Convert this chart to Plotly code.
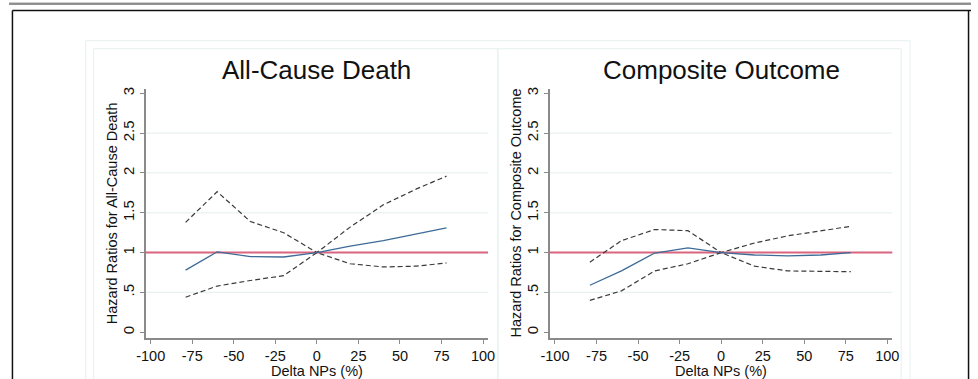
import plotly.graph_objects as go

# Change in NPs (%) at which hazard ratios were estimated
delta_nps = [-79, -60, -40, -20, 0, 20, 40, 60, 78]

# All-cause death: hazard ratio with 95% CI bounds
death_hr = [0.78, 1.01, 0.95, 0.945, 1.0, 1.08, 1.15, 1.23, 1.31]
death_upper = [1.38, 1.765, 1.39, 1.25, 1.0, 1.32, 1.60, 1.80, 1.96]
death_lower = [0.44, 0.58, 0.65, 0.71, 1.0, 0.86, 0.82, 0.83, 0.87]

# Composite outcome: hazard ratio with 95% CI bounds
comp_hr = [0.59, 0.77, 0.995, 1.06, 1.0, 0.97, 0.96, 0.97, 1.0]
comp_upper = [0.88, 1.15, 1.29, 1.275, 1.0, 1.12, 1.21, 1.27, 1.33]
comp_lower = [0.40, 0.52, 0.77, 0.86, 1.0, 0.83, 0.77, 0.76, 0.76]

x_ticks = [-100, -75, -50, -25, 0, 25, 50, 75, 100]
x_tick_text = ["-100", "-75", "-50", "-25", "0", "25", "50", "75", "100"]
y_ticks = [0, 0.5, 1, 1.5, 2, 2.5, 3]
y_tick_text = ["0", ".5", "1", "1.5", "2", "2.5", "3"]
grid_vals = [0.5, 1.5, 2, 2.5]
reference_hr = 1

titles = ["All-Cause Death", "Composite Outcome"]
y_titles = ["Hazard Ratios for All-Cause Death", "Hazard Ratios for Composite Outcome"]
x_title = "Delta NPs (%)"

W, H = 978, 379
FONT = "Liberation Sans, Arial, Helvetica, sans-serif"
BLUE = "#3d6b98"
DASH_COLOR = "#3a3a3a"
RED = "#d9657f"
FAINT = "#e6efef"
AXIS = "#8a8a8a"

X_RANGE = [-103, 103]
Y_RANGE = [-0.075, 3.06]


def px_x(p):
    return p / W


def px_y(p):
    return 1 - p / H


fig = go.Figure()

panels = [
    (death_hr, death_upper, death_lower, "x", "y"),
    (comp_hr, comp_upper, comp_lower, "x2", "y2"),
]

for hr, up, lo, xa, ya in panels:
    for vals in (up, lo):
        fig.add_trace(go.Scatter(
            x=delta_nps, y=vals, mode="lines", xaxis=xa, yaxis=ya,
            line=dict(color=DASH_COLOR, width=1.2, dash="5px,3px"),
            showlegend=False, hoverinfo="skip"))
    fig.add_trace(go.Scatter(
        x=delta_nps, y=hr, mode="lines", xaxis=xa, yaxis=ya,
        line=dict(color=BLUE, width=1.3), showlegend=False))

axis_common = dict(
    showline=True, linecolor=AXIS, linewidth=1.5, zeroline=False,
    showgrid=False, ticks="outside", ticklen=4, tickcolor=AXIS, tickwidth=1,
)
x_font = dict(family=FONT, size=14.5, color="#111")
y_font = dict(family=FONT, size=15, color="#111")

y_dom = [px_y(338), px_y(87)]
fig.update_layout(
    xaxis=dict(domain=[px_x(139), px_x(487)], range=X_RANGE, tickvals=x_ticks,
               ticktext=x_tick_text, anchor="y", tickfont=x_font, **axis_common),
    yaxis=dict(domain=y_dom, range=Y_RANGE, tickvals=y_ticks, ticktext=y_tick_text,
               tickangle=-90, anchor="x", tickfont=y_font, **axis_common),
    xaxis2=dict(domain=[px_x(550), px_x(898)], range=X_RANGE, tickvals=x_ticks,
                ticktext=x_tick_text, anchor="y2", tickfont=x_font, **axis_common),
    yaxis2=dict(domain=y_dom, range=Y_RANGE, tickvals=y_ticks, ticktext=y_tick_text,
                tickangle=-90, anchor="x2", tickfont=y_font, **axis_common),
)

shapes = []
# grid lines and the HR = 1 reference line in each panel
for _, _, _, xa, ya in panels:
    xref = xa + " domain"
    for g in grid_vals:
        shapes.append(dict(type="line", xref=xref, yref=ya, x0=0, x1=1, y0=g, y1=g,
                           line=dict(color="#e9f1f1", width=1.2), layer="below"))
    shapes.append(dict(type="line", xref=xref, yref=ya, x0=0, x1=1,
                       y0=reference_hr, y1=reference_hr,
                       line=dict(color=RED, width=2), layer="below"))

# faint graph-region boxes
shapes.append(dict(type="rect", xref="paper", yref="paper",
                   x0=px_x(78), x1=px_x(916), y0=px_y(400), y1=px_y(39),
                   line=dict(color=FAINT, width=1)))
shapes.append(dict(type="rect", xref="paper", yref="paper",
                   x0=px_x(86), x1=px_x(497), y0=px_y(400), y1=px_y(47),
                   line=dict(color=FAINT, width=1)))
shapes.append(dict(type="rect", xref="paper", yref="paper",
                   x0=px_x(497), x1=px_x(907), y0=px_y(400), y1=px_y(47),
                   line=dict(color=FAINT, width=1)))

# outer frame
shapes.append(dict(type="line", xref="paper", yref="paper",
                   x0=0, x1=1, y0=px_y(0.5), y1=px_y(0.5),
                   line=dict(color="#cfcfcf", width=1)))
shapes.append(dict(type="line", xref="paper", yref="paper",
                   x0=0, x1=1, y0=px_y(2), y1=px_y(2),
                   line=dict(color="#222", width=1)))
shapes.append(dict(type="line", xref="paper", yref="paper",
                   x0=px_x(3.5), x1=1, y0=px_y(8.5), y1=px_y(8.5),
                   line=dict(color="#111", width=1.5)))
shapes.append(dict(type="line", xref="paper", yref="paper",
                   x0=px_x(3.5), x1=px_x(3.5), y0=0, y1=px_y(8.5),
                   line=dict(color="#111", width=1.5)))
shapes.append(dict(type="line", xref="paper", yref="paper",
                   x0=px_x(975.5), x1=px_x(975.5), y0=0, y1=px_y(8.5),
                   line=dict(color="#111", width=1.5)))

annotations = []
centers = [313, 724]
ytitle_x = [105, 515]
for i in range(2):
    annotations.append(dict(text=titles[i], xref="paper", yref="paper",
                            x=px_x(centers[i]), y=px_y(68), showarrow=False,
                            xanchor="center", yanchor="middle",
                            font=dict(family=FONT, size=26, color="#111")))
    annotations.append(dict(text=x_title, xref="paper", yref="paper",
                            x=px_x(centers[i]), y=px_y(371), showarrow=False,
                            xanchor="center", yanchor="middle",
                            font=dict(family=FONT, size=14.5, color="#111")))
    annotations.append(dict(text=y_titles[i], xref="paper", yref="paper",
                            x=px_x(ytitle_x[i]), y=px_y(212), showarrow=False,
                            textangle=-90, xanchor="center", yanchor="middle",
                            font=dict(family=FONT, size=14.5, color="#111")))

fig.update_layout(
    width=W, height=H, margin=dict(l=0, r=0, t=0, b=0),
    paper_bgcolor="white", plot_bgcolor="white",
    shapes=shapes, annotations=annotations, showlegend=False,
)

fig.write_html("out.html")
